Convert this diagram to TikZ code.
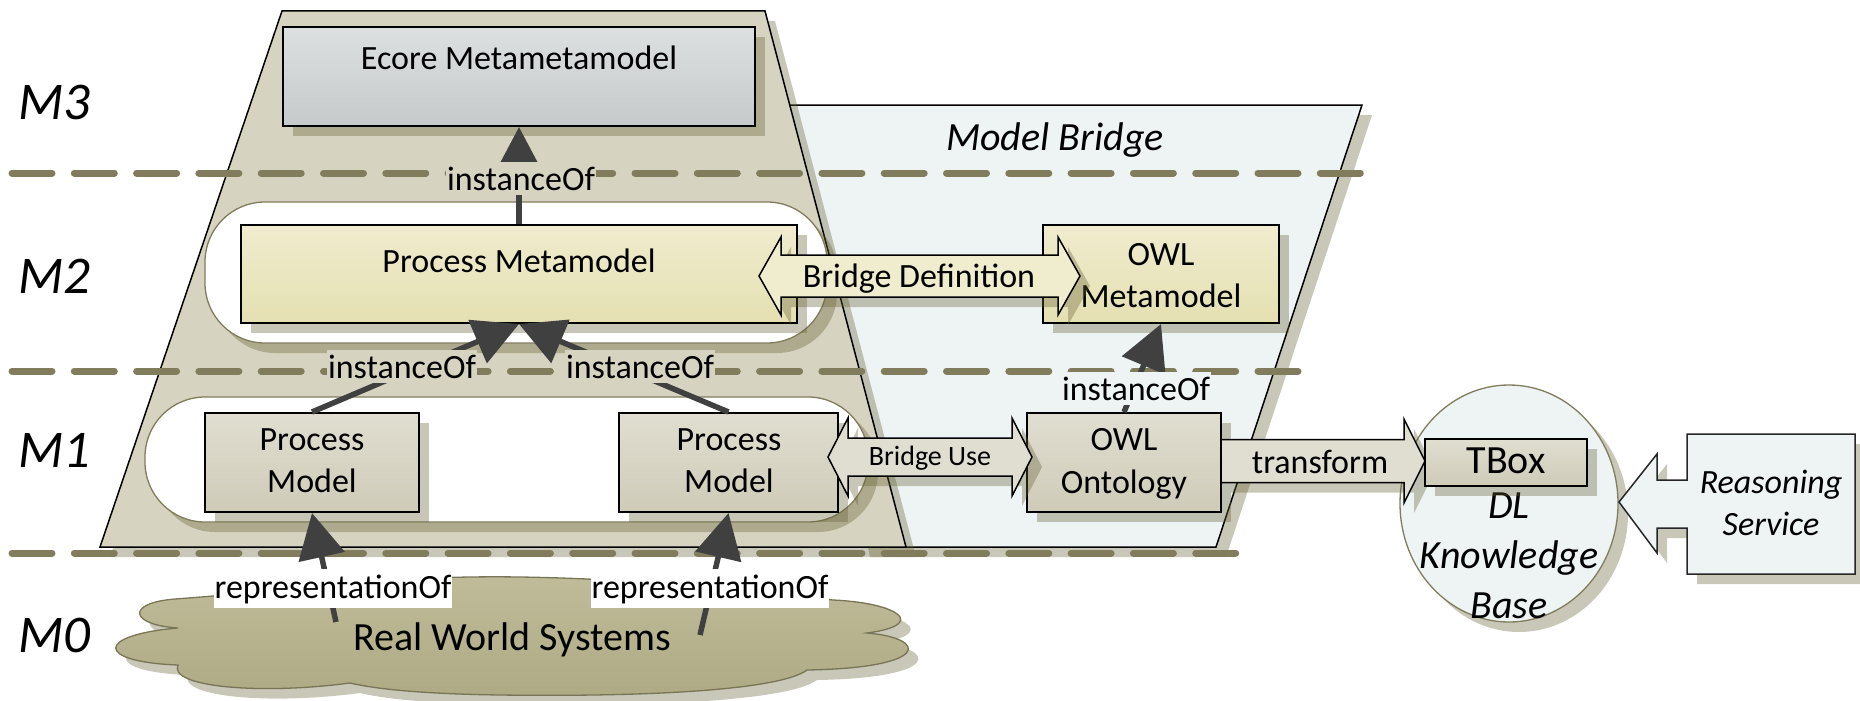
\documentclass[tikz,border=0pt]{standalone}
\usepackage{fontspec}
\setmainfont{Carlito}
\usetikzlibrary{shapes.geometric,shadows,arrows.meta}
\definecolor{tanc}{RGB}{214,211,192}
\definecolor{bridgeblue}{RGB}{238,244,244}
\definecolor{dashcol}{RGB}{128,124,92}
\definecolor{arrowcol}{RGB}{64,64,64}
\definecolor{ecoretop}{RGB}{220,224,224}
\definecolor{ecorebot}{RGB}{198,202,202}
\definecolor{yeltop}{RGB}{240,236,206}
\definecolor{yelbot}{RGB}{228,224,178}
\definecolor{boxtop}{RGB}{224,222,208}
\definecolor{boxbot}{RGB}{206,203,184}
\definecolor{cloudtop}{RGB}{192,188,154}
\definecolor{cloudbot}{RGB}{174,170,132}
\definecolor{cloudline}{RGB}{120,116,86}
\definecolor{shadowcol}{RGB}{100,95,50}
\newcommand{\myfs}[1]{\fontsize{#1}{#1}\selectfont}
\begin{document}
\begin{tikzpicture}[x=1pt,y=-1pt,
  shad/.style={drop shadow={shadow xshift=10pt,shadow yshift=-10pt,fill=shadowcol,opacity=0.35}},
  mbox/.style={rectangle,draw=black,line width=2pt,inner sep=0pt,shad},
  greybox/.style={mbox,top color=ecoretop,bottom color=ecorebot},
  yelbox/.style={mbox,top color=yeltop,bottom color=yelbot},
  tanbox/.style={mbox,top color=boxtop,bottom color=boxbot},
  lbl/.style={anchor=base,inner sep=0pt,font=\myfs{34}},
  itl/.style={anchor=base,inner sep=0pt,font=\myfs{40}\itshape},
  lvl/.style={anchor=base west,inner sep=0pt,font=\myfs{53}\itshape},
  capsule/.style={draw=dashcol,line width=1.3pt,fill=white,rounded corners=60pt},
  dashl/.style={dashcol,line width=7pt,line cap=round,dash pattern=on 40pt off 22.3pt},
  conn/.style={arrowcol,line width=5.5pt,-{Triangle[length=45pt,width=46pt]}},
  tag/.style={anchor=base,inner xsep=1pt,inner ysep=5pt,font=\myfs{34}},
  blockar/.style={draw=black,line width=1.5pt,shad},
]
\useasboundingbox (0,0) rectangle (1860,701);
% Model Bridge panel
\filldraw[fill=bridgeblue,draw=black,line width=1.5pt,shad] (770,105) -- (1362,105) -- (1216,547) -- (860,547) -- cycle;
% metamodel stack panel
\filldraw[fill=tanc,draw=black,line width=1.5pt,shad] (282,11) -- (765,11) -- (906,547) -- (100,547) -- cycle;
% level capsules
\draw[capsule,shad] (205,202) rectangle (827,343);
\draw[capsule,shad] (145,397) rectangle (868,522);
% level separators
\draw[dashl] (12,173) -- (1369,173);
\draw[dashl] (12,371) -- (1305,371);
\draw[dashl] (12,553) -- (1241,553);
% level labels
\node[lvl] (m3) at (18,119) {M3};
\node[lvl] (m2) at (18,293) {M2};
\node[lvl] (m1) at (18,467) {M1};
\node[lvl] (m0) at (18,652) {M0};
\node[itl] (mbt) at (1055,150) {Model Bridge};
% cloud
\draw[draw=cloudline,line width=1.3pt,top color=cloudtop,bottom color=cloudbot,shad]
  (178,628) .. controls (130,625) and (125,603) .. (175,599)
  .. controls (300,590) and (380,575) .. (520,577)
  .. controls (650,579) and (760,592) .. (833,600)
  .. controls (900,603) and (928,625) .. (867,633)
  .. controls (928,638) and (932,668) .. (807,670)
  .. controls (780,690) and (650,697) .. (500,695)
  .. controls (430,694) and (380,690) .. (350,683)
  .. controls (260,695) and (168,687) .. (178,665)
  .. controls (95,662) and (95,635) .. (178,628) -- cycle;
\node[anchor=base,inner sep=0pt,font=\myfs{40}] (rwst) at (512,650) {Real World Systems};
% knowledge base
\node[ellipse,draw=dashcol,line width=1.3pt,fill=bridgeblue,shad,minimum width=218pt,minimum height=237pt,inner sep=0pt] (kb) at (1509,503.5) {};
\node[itl] (kb1) at (1509,518) {DL};
\node[itl] (kb2) at (1509,568) {Knowledge};
\node[itl] (kb3) at (1509,618) {Base};
% reasoning service callout
\filldraw[fill=bridgeblue,draw=black!85,line width=1.5pt,shad] (1687,434) -- (1855,434) -- (1855,574) -- (1687,574) -- (1687,528) -- (1657,528) -- (1657,553) -- (1619,502) -- (1657,454) -- (1657,480) -- (1687,480) -- cycle;
\node[inner sep=0pt,minimum width=168pt,minimum height=140pt] (rs) at (1771,504) {};
\node[lbl,font=\myfs{34}\itshape] (rs1) at (1771,493) {Reasoning};
\node[lbl,font=\myfs{34}\itshape] (rs2) at (1771,535) {Service};
% boxes
\node[greybox,minimum width=472pt,minimum height=99pt] (ecore) at (519,76.5) {};
\node[lbl] (ecoret) at (519,70) {Ecore Metametamodel};
\node[yelbox,minimum width=556pt,minimum height=98pt] (pmeta) at (519,274) {};
\node[lbl] (pmetat) at (519,272) {Process Metamodel};
\node[yelbox,minimum width=236pt,minimum height=98pt] (owlmeta) at (1161,274) {};
\node[lbl] (owlmeta1) at (1161,265) {OWL};
\node[lbl] (owlmeta2) at (1161,307) {Metamodel};
\node[tanbox,minimum width=214pt,minimum height=99pt] (pm1) at (312,462.5) {};
\node[lbl] (pm1a) at (312,450) {Process};
\node[lbl] (pm1b) at (312,492) {Model};
\node[tanbox,minimum width=219pt,minimum height=99pt] (pm2) at (728.5,462.5) {};
\node[lbl] (pm2a) at (729,450) {Process};
\node[lbl] (pm2b) at (729,492) {Model};
\node[tanbox,minimum width=194pt,minimum height=99pt] (owlont) at (1124,462.5) {};
\node[lbl] (owlont1) at (1124,450) {OWL};
\node[lbl] (owlont2) at (1124,493) {Ontology};
% block arrows
\filldraw[blockar,fill=yeltop] (759,276) -- (781,237) -- (781,255) -- (1058,255) -- (1058,237) -- (1080,276) -- (1058,315) -- (1058,297) -- (781,297) -- (781,315) -- cycle;
\node[lbl] (bdt) at (919,287) {Bridge Definition};
\filldraw[blockar,fill=boxtop] (828,457) -- (848,418) -- (848,438) -- (1012,438) -- (1012,418) -- (1032,457) -- (1012,496) -- (1012,476) -- (848,476) -- (848,496) -- cycle;
\node[lbl,font=\myfs{28}] (but) at (930,465) {Bridge Use};
\filldraw[blockar,fill=boxtop] (1221,439.5) -- (1404,439.5) -- (1404,419) -- (1425,461) -- (1404,503) -- (1404,482.5) -- (1221,482.5) -- cycle;
\node[lbl] (trt) at (1320,473) {transform};
\node[tanbox,minimum width=162pt,minimum height=47pt] (tbox) at (1506,462.5) {};
\node[lbl,font=\myfs{40}] (tboxt) at (1506,473) {TBox};
% connectors
\coordinate (r1) at (336,622);
\coordinate (r2) at (700,635);
\draw[conn] (pmeta.north) -- (ecore.south);
\draw[conn] (pm1.north) -- (pmeta.south);
\draw[conn] (pm2.north) -- (pmeta.south);
\draw[conn] (owlont.north) -- (owlmeta.south);
\draw[conn] (r1) -- (pm1.south);
\draw[conn] (r2) -- (pm2.south);
% connector labels
\node[tag,fill=tanc] (io1) at (521,190) {instanceOf};
\node[tag,fill=tanc] (io2) at (402,378) {instanceOf};
\node[tag,fill=tanc] (io3) at (640,378) {instanceOf};
\node[tag,fill=bridgeblue] (io4) at (1136,400) {instanceOf};
\node[tag,fill=white] (rep1) at (333,598) {representationOf};
\node[tag,fill=white] (rep2) at (710,598) {representationOf};
\end{tikzpicture}
\end{document}
